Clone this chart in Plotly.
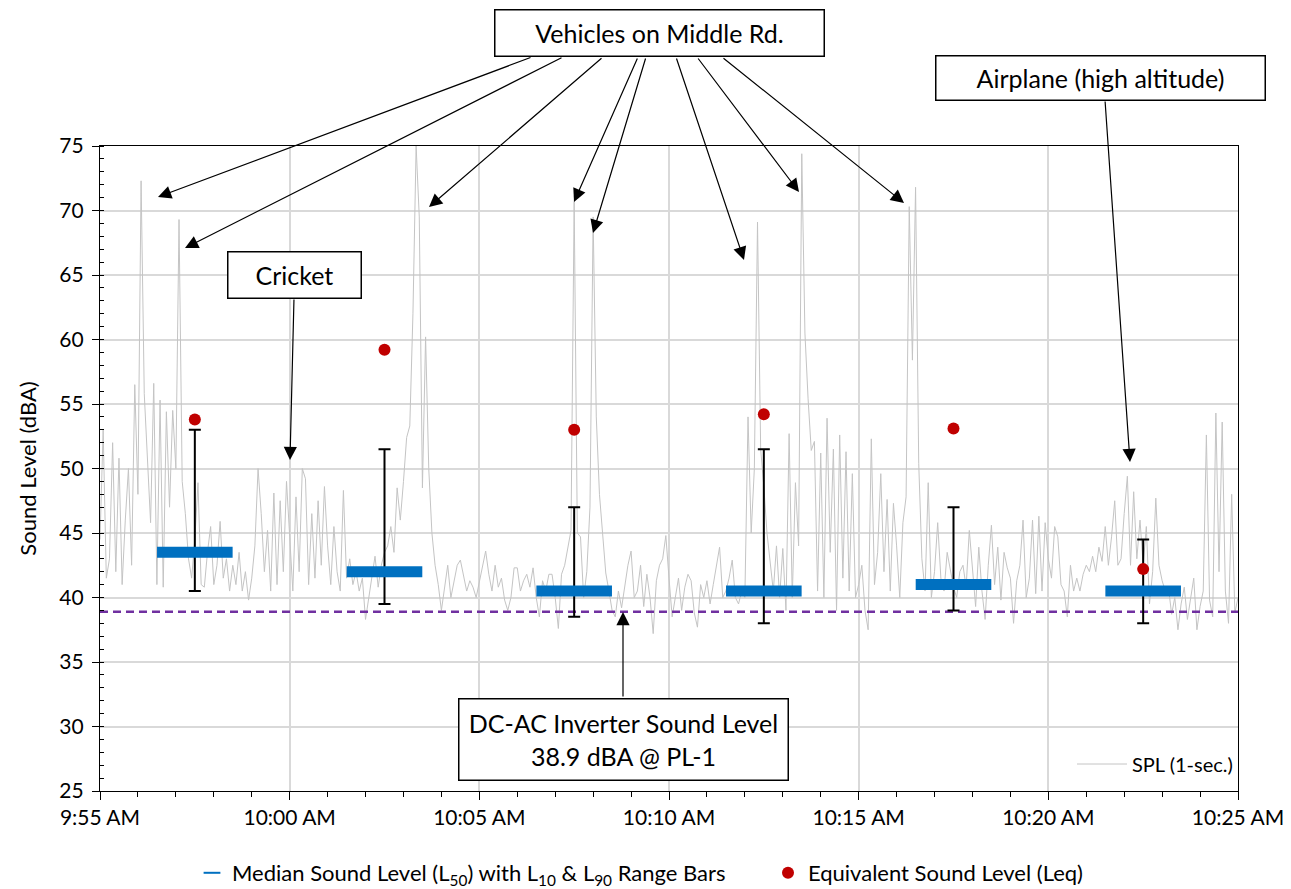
import pandas as pd
import plotly.graph_objects as go

# ---------------- data ----------------
start_time = "2024-01-01 09:55:00"
end_time = "2024-01-01 10:25:00"
sample_step_s = 5

spl_db = [
    44.5, 53.0, 41.5, 43.0, 52.0, 42.0, 50.8, 41.0, 46.0, 50.0, 42.5, 56.5,
    48.0, 72.3, 55.8, 50.5, 45.8, 56.6, 41.0, 55.3, 40.8, 54.4, 47.0, 54.5,
    50.0, 69.3, 49.0, 46.5, 43.0, 41.5, 44.5, 48.9, 41.0, 40.8, 43.5, 45.5,
    41.0, 42.5, 45.9, 41.5, 43.0, 40.5, 42.5, 41.0, 43.5, 40.5, 42.0, 39.8,
    41.5, 44.0, 50.0, 46.5, 42.0, 45.2, 40.5, 48.1, 41.0, 47.5, 42.0, 49.0,
    45.0, 40.5, 47.8, 42.0, 50.0, 49.2, 41.0, 46.5, 41.5, 47.5, 42.5, 48.6,
    44.0, 41.0, 45.5, 42.0, 40.5, 48.3, 41.5, 43.0, 41.0, 42.0, 40.5, 41.5,
    38.3, 40.0, 41.8, 43.2, 40.8, 42.5, 43.5, 44.0, 45.5, 43.5, 48.5, 46.0,
    49.0, 52.4, 53.3, 62.0, 75.0, 69.5, 48.5, 60.2, 50.0, 45.0, 42.5, 41.0,
    39.0, 40.8, 42.5, 40.0, 41.3, 42.5, 42.9, 41.8, 40.5, 41.3, 40.8, 40.0,
    41.3, 42.5, 43.6, 41.8, 40.5, 42.5, 40.8, 41.5, 39.8, 39.0, 40.0, 42.3,
    42.3, 40.5, 41.3, 41.8, 40.8, 42.3, 40.0, 38.5, 41.3, 40.5, 41.8, 41.8,
    40.0, 37.6, 41.8, 42.5, 44.0, 45.2, 70.7, 45.0, 44.7, 40.0, 42.0, 47.0,
    69.5, 54.0, 48.0, 45.0, 41.9, 40.5, 39.0, 38.5, 40.5, 39.2, 41.0, 42.5,
    43.6, 40.0, 40.5, 42.5, 39.3, 41.8, 40.0, 37.2, 41.3, 42.5, 43.0, 44.8,
    41.5, 38.5, 40.0, 41.5, 39.0, 40.8, 41.8, 41.3, 38.8, 37.7, 41.0, 40.0,
    41.3, 39.5, 41.0, 42.5, 43.9, 40.0, 40.5, 41.5, 42.9, 40.0, 39.5, 40.5,
    40.0, 54.0, 45.0, 50.0, 69.1, 51.5, 48.6, 45.0, 42.5, 40.5, 44.0, 40.0,
    43.8, 39.0, 52.7, 40.0, 48.9, 44.0, 74.4, 60.5, 55.4, 51.4, 52.1, 40.5,
    51.2, 40.0, 53.9, 43.5, 51.5, 39.0, 52.6, 41.5, 51.3, 40.5, 49.6, 40.0,
    41.0, 42.5, 39.0, 37.5, 52.3, 41.0, 43.5, 49.6, 42.0, 47.6, 40.5, 47.3,
    44.0, 40.0, 45.8, 47.8, 70.3, 58.4, 71.8, 50.4, 43.0, 40.5, 48.9, 40.0,
    42.0, 45.8, 41.5, 40.5, 43.5, 42.0, 40.8, 40.0, 42.0, 42.5, 40.8, 45.2,
    42.5, 39.3, 43.9, 40.5, 38.3, 42.5, 45.6, 41.0, 43.9, 39.8, 43.5, 42.3,
    41.5, 38.0, 41.3, 42.5, 46.0, 40.0, 41.5, 46.0, 40.3, 46.3, 40.5, 45.8,
    43.0, 41.5, 45.5, 44.7, 41.0, 40.5, 38.5, 42.5, 40.5, 41.5, 40.5, 41.8,
    42.5, 42.0, 43.2, 42.0, 43.9, 42.8, 45.5, 42.5, 44.7, 47.5, 42.5, 43.0,
    46.5, 49.4, 42.5, 48.2, 43.0, 46.0, 42.5, 45.5, 39.5, 42.0, 47.7, 42.5,
    41.3, 40.5, 40.8, 38.7, 40.0, 37.5, 39.5, 40.8, 38.3, 40.0, 41.5, 37.5,
    39.3, 40.5, 52.6, 39.8, 38.5, 54.3, 42.0, 53.6, 40.5, 38.0, 48.0, 38.8,
    40.0,
]

# 5-minute interval statistics
interval_centers = ["2024-01-01 09:57:30", "2024-01-01 10:02:30", "2024-01-01 10:07:30",
                    "2024-01-01 10:12:30", "2024-01-01 10:17:30", "2024-01-01 10:22:30"]
l50 = [43.5, 42.0, 40.5, 40.5, 41.0, 40.5]
l10 = [53.0, 51.5, 47.0, 51.5, 47.0, 44.5]
l90 = [40.5, 39.5, 38.5, 38.0, 39.0, 38.0]
leq = [53.8, 59.2, 53.0, 54.2, 53.1, 42.2]

inverter_level = 38.9

# ---------------- figure ----------------
spl_times = pd.date_range(start_time, periods=len(spl_db), freq=f"{sample_step_s}s")

FONT = "Lato, 'Open Sans', sans-serif"
PAGE_OFFSET = 8            # default body margin of the page
W, H = 1291 - PAGE_OFFSET, 889 - PAGE_OFFSET
L, R, T, B = 92, 53, 138, 98
PW, PH = W - L - R, H - T - B


# helpers: window pixel -> paper fraction
def px2x(px):
    return (px - PAGE_OFFSET - L) / PW


def py2y(py):
    return (H - B - (py - PAGE_OFFSET)) / PH


fig = go.Figure()

fig.add_trace(go.Scatter(
    x=spl_times, y=spl_db, mode="lines", name="SPL (1-sec.)",
    line=dict(color="#C4C4C4", width=1), legend="legend2", hoverinfo="skip",
))

fig.add_trace(go.Scatter(
    x=[start_time, end_time], y=[inverter_level, inverter_level], mode="lines",
    line=dict(color="#7030A0", width=2.5, dash="8px,5px"), showlegend=False,
))

fig.add_trace(go.Scatter(
    x=interval_centers, y=l50, mode="markers", legend="legend",
    name="Median Sound Level (L<sub>50</sub>) with L<sub>10</sub> & L<sub>90</sub> Range Bars",
    marker=dict(symbol="line-ew", size=54, color="#0070C0",
                line=dict(color="#0070C0", width=11)),
    error_y=dict(type="data", symmetric=False,
                 array=[a - b for a, b in zip(l10, l50)],
                 arrayminus=[a - b for a, b in zip(l50, l90)],
                 color="black", thickness=2, width=6),
))

fig.add_trace(go.Scatter(
    x=interval_centers, y=leq, mode="markers", name="Equivalent Sound Level (Leq)",
    legend="legend3",
    marker=dict(symbol="circle", size=12, color="#C00000"),
))

# ---------------- annotations ----------------
annotations = []


def box(text, cx, cy, w, h):
    annotations.append(dict(
        xref="paper", yref="paper", x=px2x(cx), y=py2y(cy), text=text, showarrow=False,
        xanchor="center", yanchor="middle", width=w, height=h, align="center",
        bordercolor="black", borderwidth=1.5, borderpad=0, bgcolor="white",
        font=dict(family=FONT, size=25, color="black"),
    ))


def arrow(tail, head):
    annotations.append(dict(
        xref="paper", yref="paper", x=px2x(head[0]), y=py2y(head[1]), text="",
        showarrow=True, axref="pixel", ayref="pixel",
        ax=tail[0] - head[0], ay=tail[1] - head[1],
        arrowhead=2, arrowsize=2.2, arrowwidth=1.2, arrowcolor="black", standoff=0,
    ))


for tail, head in [((532, 57), (158, 197)), ((563, 57), (185, 248)), ((603, 57), (429, 207)),
                   ((638, 57), (574, 202)), ((646, 57), (593, 233)), ((676, 57), (744, 260)),
                   ((697, 57), (799, 192)), ((722, 57), (904, 203)),
                   ((294, 298), (290, 460)), ((1105, 100), (1130, 462)),
                   ((623, 698), (623, 612))]:
    arrow(tail, head)

box("Vehicles on Middle Rd.", 659, 33.5, 328, 45)
box("Cricket", 294, 274.5, 132, 45)
box("Airplane (high altitude)", 1100, 77.5, 328, 43)
box("DC-AC Inverter Sound Level<br>38.9 dBA @ PL-1", 623, 739, 328, 80)

bottom_legend = dict(orientation="h", xanchor="left", y=py2y(873), yanchor="middle",
                     font=dict(size=22), itemsizing="constant", bgcolor="rgba(0,0,0,0)",
                     borderwidth=0)

fig.update_layout(
    width=W, height=H,
    margin=dict(l=L, r=R, t=T, b=B, autoexpand=False),
    paper_bgcolor="white", plot_bgcolor="white",
    font=dict(family=FONT, size=21, color="black"),
    annotations=annotations,
    legend=dict(bottom_legend, x=px2x(192)),
    legend3=dict(bottom_legend, x=px2x(768)),
    legend2=dict(x=1, xanchor="right", y=py2y(764), yanchor="middle",
                 font=dict(size=20), bgcolor="rgba(0,0,0,0)", itemwidth=50),
    xaxis=dict(
        type="date", range=[start_time, end_time], tick0=start_time, dtick=300000,
        tickformat="%-I:%M %p", showgrid=True, gridcolor="#D9D9D9", gridwidth=1.5,
        ticks="outside", ticklen=8, tickcolor="black", tickwidth=1,
        showline=True, linecolor="black", linewidth=1.3, mirror=True,
        tickfont=dict(size=21), zeroline=False,
        minor=dict(dtick=60000, ticks="outside", ticklen=5, tickcolor="black", showgrid=False),
    ),
    yaxis=dict(
        range=[25, 75], dtick=5, showgrid=True, gridcolor="#D9D9D9", gridwidth=1.5,
        ticks="outside", ticklen=7, tickcolor="black", tickwidth=1,
        showline=True, linecolor="black", linewidth=1.3, mirror=True,
        tickfont=dict(size=21), zeroline=False, ticklabelstandoff=4,
        title=dict(text="Sound Level (dBA)", font=dict(size=22), standoff=16),
        minor=dict(dtick=1, ticks="inside", ticklen=4, tickcolor="black", showgrid=False),
    ),
)

fig.write_html("out.html")
